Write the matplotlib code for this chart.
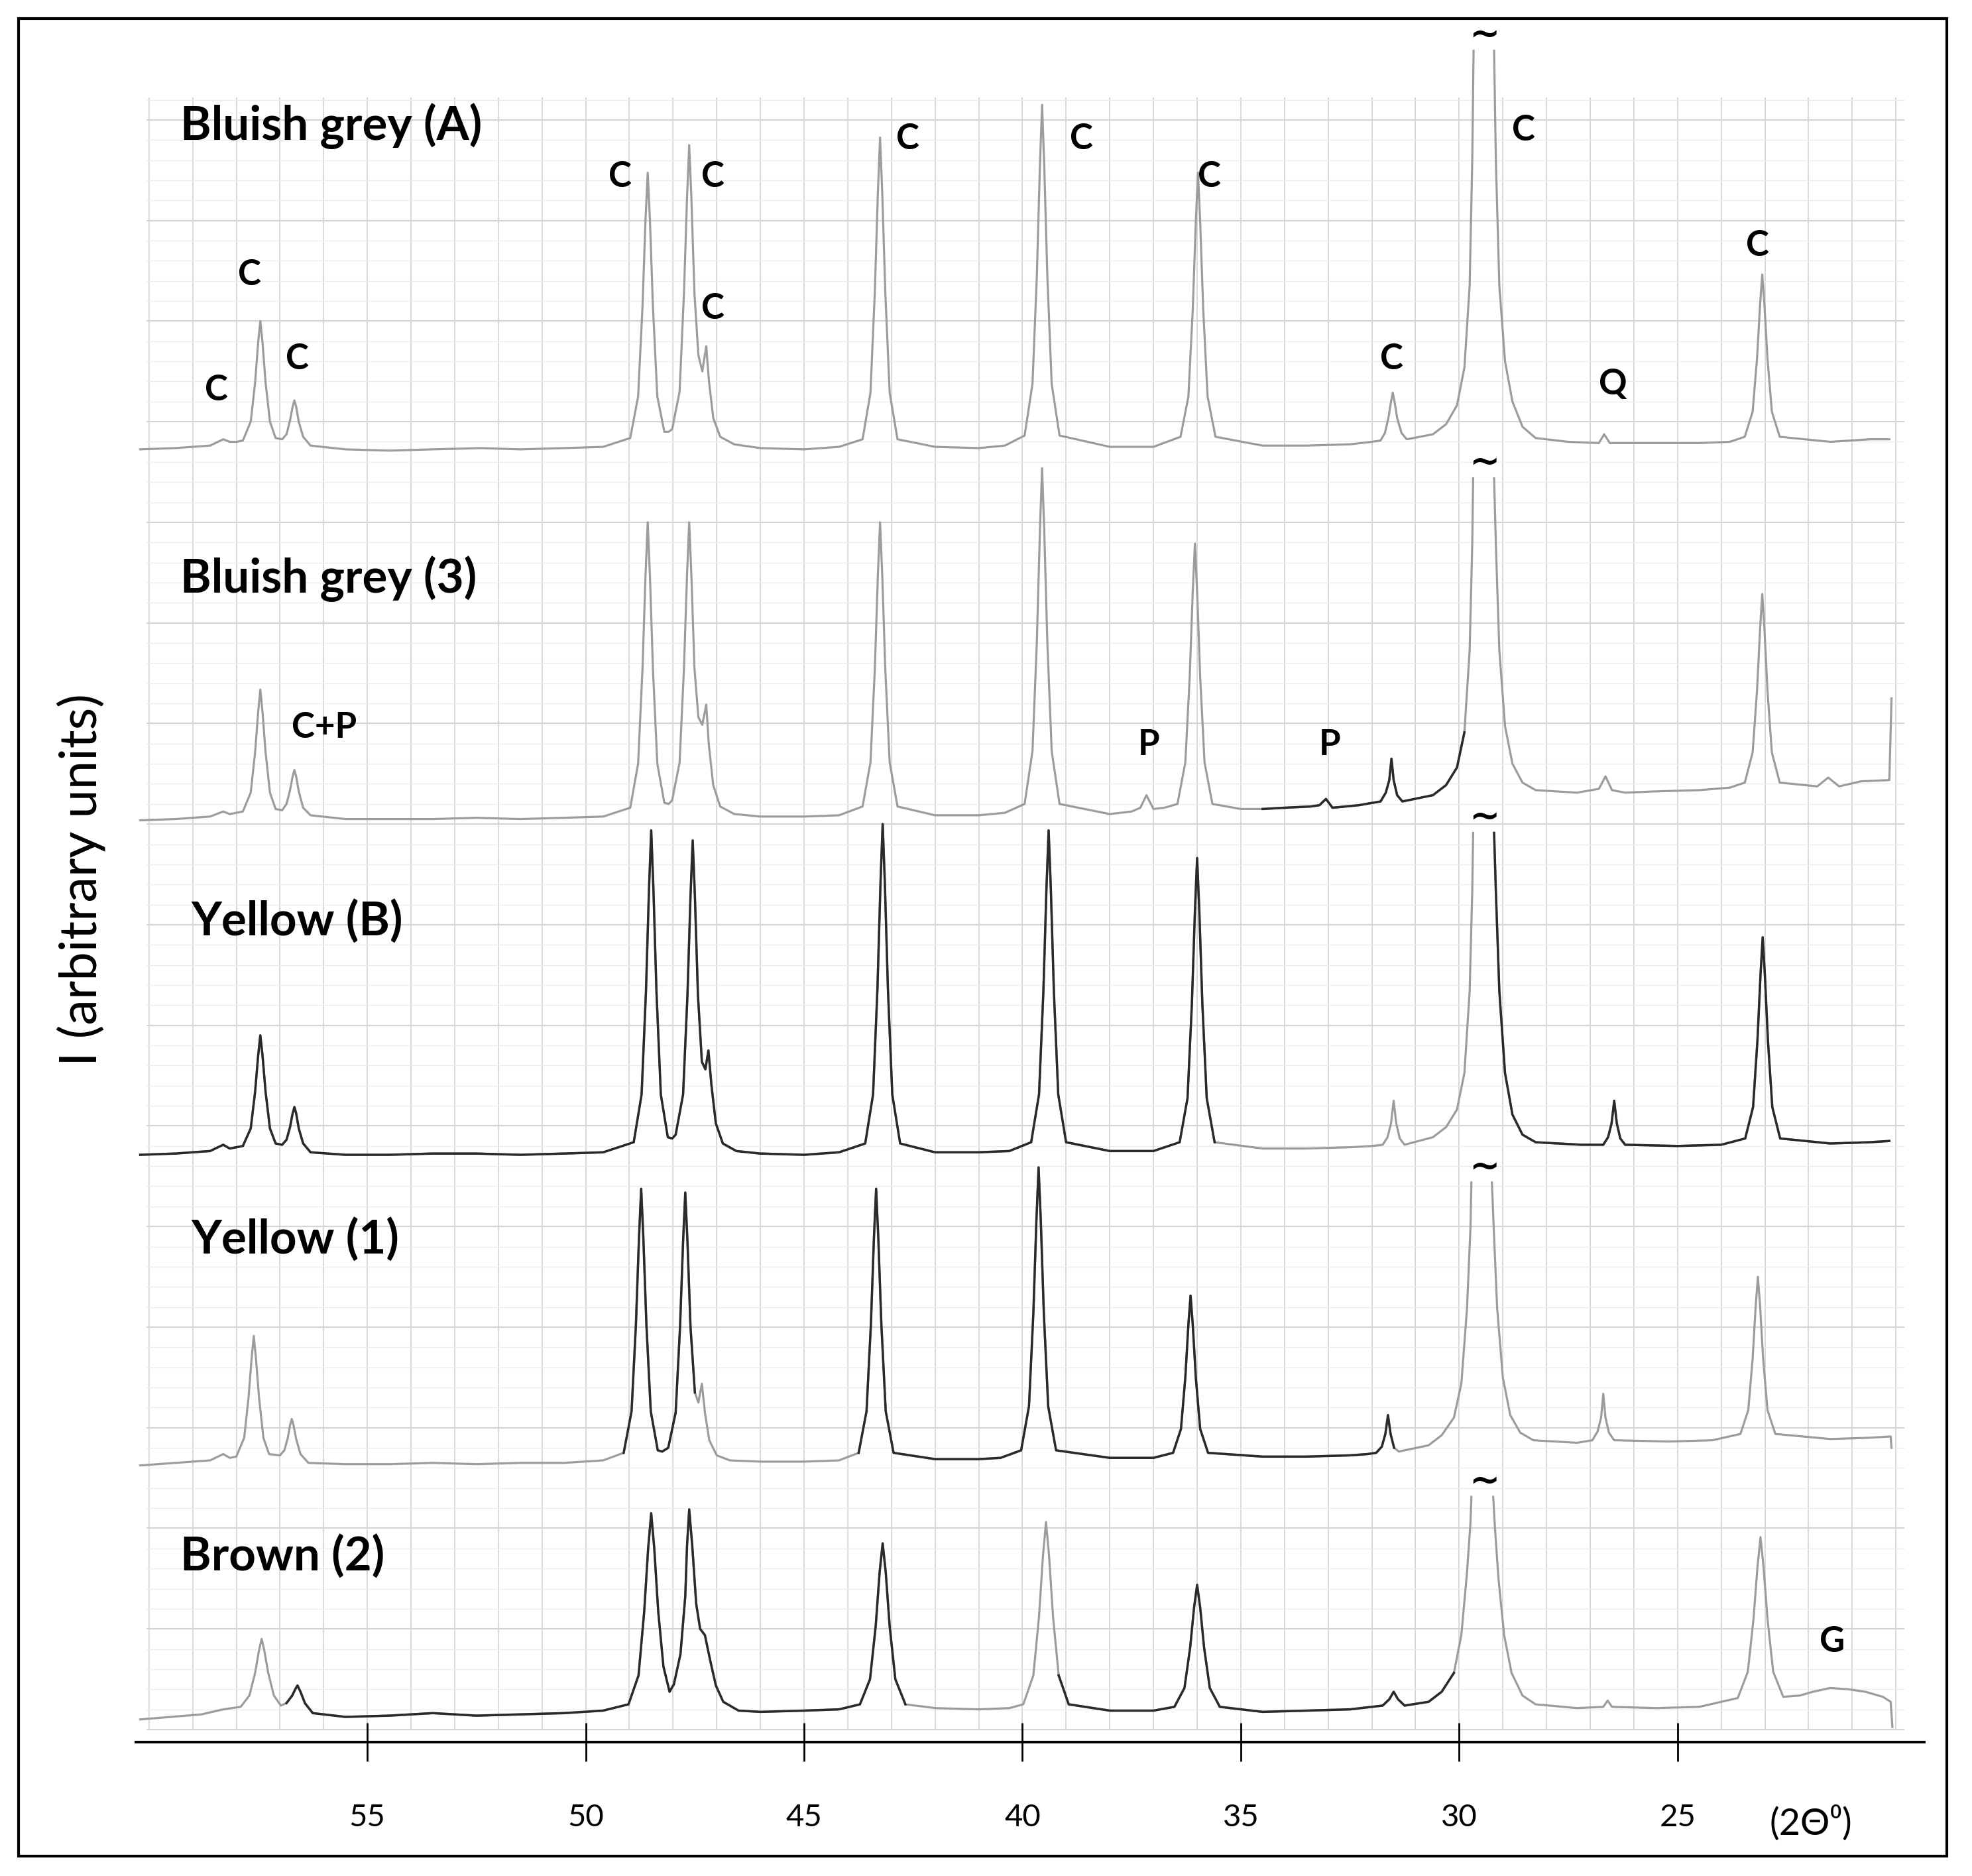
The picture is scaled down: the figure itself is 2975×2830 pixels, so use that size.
import numpy as np
import matplotlib
matplotlib.use("Agg")
import matplotlib.pyplot as plt
from matplotlib.patches import Rectangle

plt.rcParams["font.family"] = ["Lato", "DejaVu Sans"]

# Samples, top to bottom, with the vertical offset of each scan (arbitrary units)
samples = ["Bluish grey (A)", "Bluish grey (3)", "Yellow (B)", "Yellow (1)", "Brown (2)"]
baselines = [1028, 733, 467, 220, 20]
clip_heights = [317, 272, 256, 225, 175]

# traced scans: (2theta, intensity above the sample baseline); None = clipped peak top
trace_a = [
    (60.2, 0), (59.4, 1), (58.6, 3), (58.3, 8), (58.15, 6), (58.0, 6),
    (57.85, 7), (57.67, 22), (57.57, 53), (57.5, 85), (57.45, 102), (57.4, 85), (57.33, 53), (57.23, 22), (57.1, 9),
    (56.95, 8), (56.85, 12), (56.77, 23), (56.71, 34), (56.67, 39), (56.63, 34), (56.57, 22), (56.47, 10), (56.3, 3),
    (55.5, 0), (54.5, -1), (53.5, 0), (52.4, 1), (51.5, 0), (50.5, 1), (49.6, 2),
    (48.98, 9), (48.8, 42), (48.7, 113), (48.63, 183), (48.58, 220), (48.53, 183), (48.46, 113), (48.36, 42), (48.2, 14), (48.1, 14),
    (48.02, 16), (47.85, 46), (47.75, 124), (47.68, 200), (47.63, 242), (47.58, 200), (47.51, 124), (47.42, 75),
    (47.33, 62), (47.24, 82), (47.18, 55), (47.08, 25), (46.92, 10), (46.6, 4),
    (46.0, 1), (45.0, 0), (44.2, 2),
    (43.66, 8), (43.48, 45), (43.38, 125), (43.31, 204), (43.26, 248), (43.21, 204), (43.14, 125), (43.04, 45), (42.86, 8),
    (42.0, 2), (41.0, 1), (40.4, 3),
    (39.95, 11), (39.77, 52), (39.67, 138), (39.6, 225), (39.55, 274), (39.5, 225), (39.43, 138), (39.33, 52), (39.15, 11),
    (38.0, 2), (37.0, 2),
    (36.38, 10), (36.2, 42), (36.1, 111), (36.03, 181), (35.98, 220), (35.93, 181), (35.86, 111), (35.76, 42), (35.58, 10),
    (34.5, 3), (33.5, 3), (32.5, 4), (32.0, 6),
    (31.8, 7), (31.7, 13), (31.62, 25), (31.56, 38), (31.52, 45), (31.48, 38), (31.42, 25), (31.32, 13), (31.2, 8),
    (30.6, 12), (30.3, 20), (30.05, 35), (29.88, 65), (29.76, 130), (29.7, 230), (29.67, 317), (29.45, None),
    (29.2, 317), (29.16, 230), (29.08, 130), (28.95, 70), (28.78, 38), (28.55, 18), (28.25, 9), (27.5, 6),
    (26.8, 5), (26.68, 12), (26.55, 5),
    (25.5, 5), (24.5, 5), (23.8, 6),
    (23.46, 10), (23.28, 30), (23.18, 72), (23.11, 115), (23.06, 139), (23.01, 115), (22.94, 72), (22.84, 30), (22.66, 10),
    (21.5, 6), (20.6, 8), (20.15, 8),
]

trace_3 = [
    (60.2, 0), (59.4, 1), (58.6, 3), (58.3, 7), (58.15, 5), (58.0, 6),
    (57.85, 7), (57.67, 22), (57.57, 54), (57.5, 86), (57.45, 104), (57.4, 86), (57.33, 54), (57.23, 22), (57.1, 9),
    (56.95, 8), (56.85, 13), (56.77, 24), (56.71, 35), (56.67, 40), (56.63, 35), (56.57, 23), (56.47, 10), (56.3, 4),
    (55.5, 1), (54.5, 1), (53.5, 1), (52.5, 2), (51.5, 1), (50.5, 2), (49.6, 3),
    (48.98, 10), (48.8, 45), (48.7, 120), (48.63, 195), (48.58, 237), (48.53, 195), (48.46, 120), (48.36, 45), (48.2, 14), (48.1, 13),
    (48.02, 16), (47.85, 46), (47.75, 121), (47.68, 195), (47.63, 237), (47.58, 195), (47.51, 121), (47.42, 82),
    (47.33, 76), (47.24, 92), (47.18, 60), (47.08, 28), (46.92, 11), (46.6, 5),
    (46.0, 3), (45.0, 3), (44.2, 4),
    (43.66, 11), (43.48, 46), (43.38, 120), (43.31, 195), (43.26, 237), (43.21, 195), (43.14, 120), (43.04, 46), (42.86, 11),
    (42.0, 4), (41.0, 4), (40.4, 6),
    (39.95, 13), (39.77, 55), (39.67, 142), (39.6, 230), (39.55, 280), (39.5, 230), (39.43, 142), (39.33, 55), (39.15, 13),
    (38.0, 5), (37.5, 7),
    (37.3, 10), (37.16, 20), (37.0, 9), (36.75, 10),
    (36.45, 13), (36.27, 46), (36.17, 114), (36.1, 182), (36.05, 220), (36.0, 182), (35.93, 114), (35.83, 46), (35.65, 13),
    (35.0, 9), (34.5, 9), (34.0, 10), (33.4, 11),
    (33.2, 12), (33.05, 17), (32.9, 10), (32.3, 12),
    (31.8, 15), (31.68, 22), (31.6, 32), (31.55, 49), (31.5, 32), (31.42, 20), (31.3, 15),
    (30.6, 20), (30.3, 28), (30.05, 42), (29.88, 70), (29.76, 135), (29.7, 220), (29.68, 272), (29.45, None),
    (29.2, 272), (29.16, 220), (29.08, 135), (28.95, 75), (28.78, 45), (28.55, 30), (28.25, 24), (27.3, 22),
    (26.8, 25), (26.65, 35), (26.5, 24), (26.2, 22),
    (25.5, 23), (24.5, 24), (23.8, 26),
    (23.46, 30), (23.28, 54), (23.18, 103), (23.11, 152), (23.06, 180), (23.01, 152), (22.94, 103), (22.84, 54), (22.66, 30),
    (21.8, 27), (21.55, 34), (21.3, 27), (20.8, 31), (20.15, 32), (20.1, 97),
]

trace_b = [
    (60.2, 0), (59.4, 1), (58.6, 3), (58.3, 8), (58.15, 5), (58.0, 6),
    (57.85, 7), (57.67, 21), (57.57, 50), (57.5, 79), (57.45, 95), (57.4, 79), (57.33, 50), (57.23, 21), (57.1, 9),
    (56.95, 8), (56.85, 12), (56.77, 22), (56.71, 33), (56.67, 38), (56.63, 33), (56.57, 21), (56.47, 9), (56.3, 2),
    (55.5, 0), (54.5, 0), (53.5, 1), (52.5, 1), (51.5, 0), (50.5, 1), (49.6, 2),
    (48.9, 10), (48.72, 48), (48.62, 130), (48.55, 212), (48.5, 258), (48.45, 212), (48.38, 130), (48.28, 48), (48.12, 14), (48.02, 13),
    (47.94, 16), (47.77, 48), (47.67, 127), (47.6, 206), (47.55, 250), (47.5, 206), (47.43, 127), (47.34, 74),
    (47.26, 68), (47.19, 83), (47.12, 55), (47.02, 25), (46.86, 9), (46.55, 3),
    (46.0, 1), (45.0, 0), (44.2, 2),
    (43.6, 9), (43.42, 48), (43.32, 132), (43.25, 216), (43.2, 263), (43.15, 216), (43.08, 132), (42.98, 48), (42.8, 9),
    (42.0, 2), (41.0, 2), (40.3, 3),
    (39.8, 10), (39.62, 48), (39.52, 130), (39.45, 212), (39.4, 258), (39.35, 212), (39.28, 130), (39.18, 48), (39.0, 10),
    (38.0, 3), (37.0, 3),
    (36.4, 10), (36.22, 45), (36.12, 120), (36.05, 194), (36.0, 236), (35.95, 194), (35.88, 120), (35.78, 45), (35.6, 10),
    (34.5, 5), (33.5, 5), (32.5, 6), (32.0, 7),
    (31.75, 8), (31.64, 14), (31.56, 25), (31.5, 43), (31.44, 25), (31.36, 13), (31.25, 8),
    (30.6, 14), (30.3, 22), (30.05, 36), (29.88, 65), (29.76, 130), (29.7, 210), (29.68, 256), (29.45, None),
    (29.2, 256), (29.16, 210), (29.08, 130), (28.95, 65), (28.78, 32), (28.55, 16), (28.25, 10), (27.2, 8),
    (26.7, 8), (26.59, 14), (26.51, 25), (26.45, 43), (26.39, 25), (26.31, 13), (26.2, 8),
    (25.0, 7), (24.0, 8),
    (23.45, 13), (23.27, 38), (23.17, 91), (23.1, 143), (23.05, 173), (23.0, 143), (22.93, 91), (22.83, 38), (22.65, 13),
    (21.5, 9), (20.6, 10), (20.15, 11),
]

trace_1 = [
    (60.2, 0), (59.4, 2), (58.6, 4), (58.3, 9), (58.15, 6),
    (58.0, 7), (57.82, 22), (57.72, 54), (57.65, 85), (57.6, 103), (57.55, 85), (57.48, 54), (57.38, 22), (57.25, 9),
    (57.0, 8), (56.9, 12), (56.82, 22), (56.77, 32), (56.73, 37), (56.69, 32), (56.63, 21), (56.53, 9), (56.35, 2),
    (55.5, 1), (54.5, 1), (53.5, 2), (52.5, 1), (51.5, 2), (50.5, 2), (49.6, 4),
    (49.13, 10), (48.95, 43), (48.85, 112), (48.78, 181), (48.73, 220), (48.68, 181), (48.61, 112), (48.51, 43), (48.35, 12), (48.25, 11),
    (48.11, 14), (47.94, 42), (47.84, 110), (47.77, 178), (47.72, 217), (47.67, 178), (47.6, 110), (47.5, 58),
    (47.42, 50), (47.34, 65), (47.27, 42), (47.17, 20), (47.0, 8), (46.7, 4),
    (46.0, 3), (45.0, 3), (44.2, 4),
    (43.75, 10), (43.57, 43), (43.47, 112), (43.4, 181), (43.35, 220), (43.3, 181), (43.23, 112), (43.13, 43), (42.95, 10),
    (42.0, 5), (41.0, 5), (40.5, 6),
    (40.03, 12), (39.85, 47), (39.75, 121), (39.68, 195), (39.63, 237), (39.58, 195), (39.51, 121), (39.41, 47), (39.23, 12),
    (38.0, 6), (37.0, 6),
    (36.55, 10), (36.37, 29), (36.27, 70), (36.2, 112), (36.15, 135), (36.1, 112), (36.03, 70), (35.93, 29), (35.75, 10),
    (34.5, 7), (33.5, 7), (32.5, 8), (32.1, 9),
    (31.9, 10), (31.77, 15), (31.69, 25), (31.63, 40), (31.57, 25), (31.49, 14), (31.38, 11),
    (30.7, 16), (30.4, 24), (30.12, 38), (29.95, 65), (29.82, 125), (29.74, 190), (29.72, 225), (29.5, None),
    (29.25, 225), (29.21, 190), (29.13, 125), (29.0, 70), (28.83, 40), (28.6, 26), (28.3, 20), (27.3, 18),
    (26.95, 20), (26.83, 27), (26.75, 38), (26.7, 57), (26.65, 38), (26.57, 26), (26.45, 20),
    (25.2, 19), (24.2, 20),
    (23.56, 25), (23.38, 44), (23.28, 85), (23.21, 127), (23.16, 150), (23.11, 127), (23.04, 85), (22.94, 44), (22.76, 25),
    (21.5, 21), (20.6, 22), (20.12, 23), (20.1, 14),
]

trace_2 = [
    (60.2, -2), (59.5, 0), (58.8, 2), (58.3, 6),
    (57.9, 8), (57.7, 17), (57.57, 35), (57.48, 53), (57.42, 62), (57.36, 53), (57.27, 35), (57.14, 17), (56.98, 9),
    (56.85, 11), (56.72, 17), (56.65, 22), (56.6, 25), (56.53, 20), (56.43, 11), (56.25, 3),
    (55.5, 0), (54.5, 1), (53.5, 3), (52.5, 1), (51.5, 2), (50.5, 3), (49.6, 5),
    (49.02, 10), (48.79, 33), (48.66, 84), (48.57, 134), (48.5, 162), (48.43, 134), (48.34, 84), (48.22, 40), (48.08, 20),
    (47.98, 26), (47.83, 50), (47.72, 96), (47.68, 136), (47.63, 165), (47.56, 136), (47.47, 90), (47.38, 70),
    (47.27, 65), (47.15, 45), (47.02, 25), (46.85, 12), (46.5, 5),
    (46.0, 4), (45.0, 5), (44.2, 6),
    (43.72, 10), (43.49, 30), (43.36, 72), (43.27, 115), (43.2, 138), (43.13, 115), (43.04, 72), (42.91, 30), (42.68, 10),
    (42.0, 7), (41.0, 6), (40.3, 7),
    (39.98, 10), (39.75, 33), (39.62, 80), (39.53, 128), (39.46, 155), (39.39, 128), (39.3, 80), (39.17, 33), (38.94, 10),
    (38.0, 5), (37.0, 5),
    (36.52, 8), (36.29, 23), (36.16, 55), (36.07, 87), (36.0, 105), (35.93, 87), (35.84, 55), (35.71, 23), (35.48, 8),
    (34.5, 4), (33.5, 5), (32.5, 6), (32.0, 8),
    (31.75, 9), (31.6, 14), (31.5, 20), (31.4, 14), (31.25, 9),
    (30.7, 12), (30.4, 20), (30.12, 35), (29.95, 65), (29.82, 115), (29.74, 155), (29.72, 175), (29.5, None),
    (29.22, 175), (29.18, 150), (29.1, 110), (28.97, 65), (28.8, 35), (28.55, 17), (28.25, 10), (27.3, 7),
    (26.7, 8), (26.6, 13), (26.5, 8),
    (25.5, 7), (24.5, 8),
    (23.62, 15), (23.39, 36), (23.26, 78), (23.17, 119), (23.1, 143), (23.03, 119), (22.94, 78), (22.81, 36), (22.58, 16),
    (22.2, 17), (21.9, 20), (21.5, 23), (21.1, 22), (20.7, 20), (20.3, 16), (20.12, 12), (20.08, -8),
]

traces = [trace_a, trace_3, trace_b, trace_1, trace_2]

# stretches of each scan printed in dark ink (2theta from, to)
dark_ranges = [
    [],
    [(34.9, 29.85)],
    [(60.3, 35.5), (29.3, 19.3)],
    [(49.2, 47.45), (43.8, 31.4)],
    [(56.9, 42.6), (39.2, 30.0)],
]

# phase labels: (text, 2theta, intensity)
peak_labels = [
    ("C", 58.45, 1075), ("C", 57.7, 1167), ("C", 56.61, 1100), ("C", 49.22, 1245),
    ("C", 47.09, 1245), ("C", 47.09, 1140), ("C", 42.63, 1275), ("C", 38.65, 1275),
    ("C", 35.72, 1245), ("C", 31.55, 1100), ("C", 28.53, 1282), ("Q", 26.48, 1080),
    ("C", 23.17, 1190), ("C+P", 55.98, 807), ("P", 37.1, 793), ("P", 32.96, 793),
    ("G", 21.45, 80),
]
name_positions = [(59.29, 1285), (59.29, 925), (59.03, 653), (59.03, 400), (59.29, 148)]
x_ticks = [55, 50, 45, 40, 35, 30, 25]

LIGHT = "#9c9c9c"
DARK = "#2a2a2a"

fig = plt.figure(figsize=(29.75, 28.3), dpi=100)
ax = fig.add_axes([0.0689, 0.0714, 0.9069, 0.9096])
ax.set_xlim(60.3, 19.35)
ax.set_ylim(0, 1357)

# chart-paper grid behind the scans
ax.vlines(np.arange(20, 61), 10, 1308, color="#d6d6d6", linewidth=1.3, zorder=0)
fine_rows = np.arange(10, 1310, 16)
ax.hlines(fine_rows, 60.05, 19.8, color="#ececec", linewidth=0.9, zorder=0)
ax.hlines(fine_rows[::5], 60.05, 19.8, color="#d4d4d4", linewidth=1.5, zorder=0)

for i, trace in enumerate(traces):
    arr = np.array(trace, dtype=float)
    x = arr[:, 0]
    y = arr[:, 1] + baselines[i]
    ax.plot(x, y, color=LIGHT, linewidth=2.3, zorder=2, solid_joinstyle="round")
    for hi, lo in dark_ranges[i]:
        mask = (x <= hi) & (x >= lo)
        ax.plot(x[mask], y[mask], color=DARK, linewidth=2.5, zorder=3, solid_joinstyle="round")
    # break mark over the truncated main calcite reflection
    ax.text(29.43, baselines[i] + clip_heights[i] + 12, "~", fontsize=40, fontweight="bold",
            family=["DejaVu Sans"], ha="center", va="center", clip_on=False, zorder=4)

for name, (px, py) in zip(samples, name_positions):
    ax.text(px, py, name, fontsize=51, fontweight="bold", ha="left", va="center", zorder=5)

for label, px, py in peak_labels:
    ax.text(px, py, label, fontsize=38, fontweight="bold", ha="center", va="center", zorder=5)

for side in ["left", "right", "top"]:
    ax.spines[side].set_visible(False)
ax.spines["bottom"].set_linewidth(2.8)
ax.set_yticks([])
ax.set_xticks(x_ticks)
ax.set_xticklabels([str(t) for t in x_ticks])
ax.tick_params(axis="x", direction="inout", length=42, width=2.0, labelsize=34, pad=46)

ax.text(21.95, -0.0478, "(2Θ⁰)", transform=ax.get_xaxis_transform(), fontsize=40,
        ha="center", va="center")
fig.text(0.0413, 0.531, "I (arbitrary units)", rotation=90, fontsize=56,
         ha="center", va="center")

fig.patches.append(Rectangle((0.0094, 0.0106), 0.9778, 0.9794, transform=fig.transFigure,
                             fill=False, edgecolor="black", linewidth=3.0))

fig.savefig("out.png", dpi=100, facecolor="white")
